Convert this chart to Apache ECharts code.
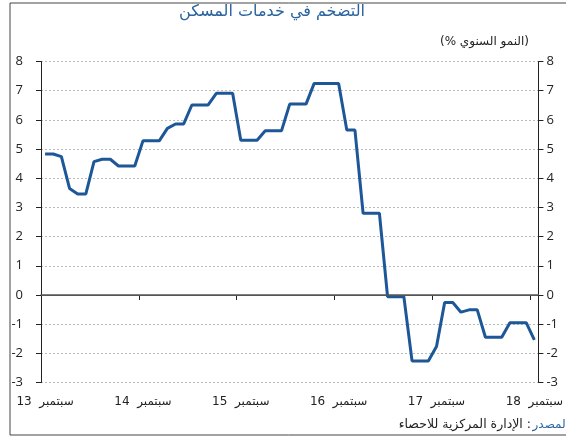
<!DOCTYPE html>
<html>
<head>
<meta charset="utf-8">
<script src="https://cdn.jsdelivr.net/npm/echarts@6/dist/echarts.min.js"></script>
<style>
  html, body { margin: 0; padding: 0; background: #fff; }
  #chart { width: 566px; height: 437px; }
</style>
</head>
<body>
<div id="chart"></div>
<script>
// monthly, Sep 2013 .. Sep 2018
const months = [];
for (let i = 0; i < 61; i++) {
  const m = (8 + i) % 12 + 1;
  const y = 2013 + Math.floor((8 + i) / 12);
  months.push(y + '-' + (m < 10 ? '0' + m : m));
}
const tickLabels = ['13  سبتمبر', '14  سبتمبر', '15  سبتمبر', '16  سبتمبر', '17  سبتمبر', '18  سبتمبر'];

// التضخم في خدمات المسكن (% النمو السنوي)
const housing = [
  4.83, 4.83, 4.74, 3.65, 3.46, 3.46, 4.57, 4.65, 4.65, 4.42, 4.42, 4.42,
  5.28, 5.28, 5.28, 5.71, 5.86, 5.86, 6.51, 6.51, 6.51, 6.91, 6.91, 6.91,
  5.30, 5.30, 5.30, 5.63, 5.63, 5.63, 6.54, 6.54, 6.54, 7.25, 7.25, 7.25,
  7.25, 5.65, 5.65, 2.80, 2.80, 2.80, -0.06, -0.06, -0.06, -2.26, -2.26, -2.26,
  -1.77, -0.26, -0.26, -0.59, -0.51, -0.51, -1.45, -1.45, -1.45, -0.95, -0.95, -0.95,
  -1.54
];

const numFont = '"Open Sans", "Liberation Sans", sans-serif';
const arFont = '"DejaVu Sans", "Liberation Sans", sans-serif';

const chart = echarts.init(document.getElementById('chart'));

const yCommon = {
  type: 'value',
  min: -3,
  max: 8,
  interval: 1,
  axisLine: { show: true, lineStyle: { color: '#222', width: 1 } },
  axisTick: { show: true, length: 5, lineStyle: { color: '#222' } }
};

chart.setOption({
  animation: false,
  grid: { left: 41, right: 24, top: 61.5, bottom: 54.5 },
  graphic: [
    {
      type: 'rect', silent: true,
      shape: { x: 10, y: 3, width: 600, height: 432 },
      style: { fill: 'none', stroke: '#444', lineWidth: 1 }
    },
    {
      type: 'text', x: 272, y: 12,
      style: {
        text: 'التضخم في خدمات المسكن', fill: '#2a64a0',
        font: '16px ' + arFont, align: 'center', verticalAlign: 'middle'
      }
    },
    {
      type: 'text', x: 529, y: 42,
      style: {
        text: '(% النمو السنوي)', fill: '#222',
        font: '12px ' + arFont, align: 'right', verticalAlign: 'middle'
      }
    },
    {
      type: 'text', x: 569, y: 425,
      style: {
        text: 'المصدر', fill: '#2a64a0',
        font: '12px ' + arFont, align: 'right', verticalAlign: 'middle'
      }
    },
    {
      type: 'text', x: 531, y: 425,
      style: {
        text: 'الإدارة المركزية للاحصاء :', fill: '#222',
        font: '12.5px ' + arFont, align: 'right', verticalAlign: 'middle'
      }
    }
  ],
  xAxis: {
    type: 'category',
    data: months,
    boundaryGap: true,
    axisLine: { show: true, lineStyle: { color: '#555', width: 1.5 } },
    axisTick: { show: true, interval: 11, length: 5, lineStyle: { color: '#222' } },
    axisLabel: {
      interval: 11,
      margin: 13,
      color: '#222',
      fontSize: 12,
      fontFamily: arFont,
      formatter: (v, i) => tickLabels[Math.floor(i / 12)] || ''
    },
    splitLine: { show: false }
  },
  yAxis: [
    Object.assign({}, yCommon, {
      position: 'left',
      axisLabel: { margin: 18, color: '#222', fontSize: 13, fontFamily: numFont },
      splitLine: { show: true, lineStyle: { color: '#bbb', type: [2, 2], width: 1 } }
    }),
    Object.assign({}, yCommon, {
      position: 'right',
      axisLabel: { margin: 8, color: '#222', fontSize: 13, fontFamily: numFont },
      splitLine: { show: false }
    })
  ],
  series: [
    {
      type: 'line',
      data: housing,
      symbol: 'none',
      lineStyle: { color: '#1d5798', width: 3 },
      markLine: {
        silent: true,
        symbol: 'none',
        label: { show: false },
        lineStyle: { color: '#555', type: 'solid', width: 1.2 },
        data: [{ yAxis: 0 }]
      }
    }
  ]
});
</script>
</body>
</html>
